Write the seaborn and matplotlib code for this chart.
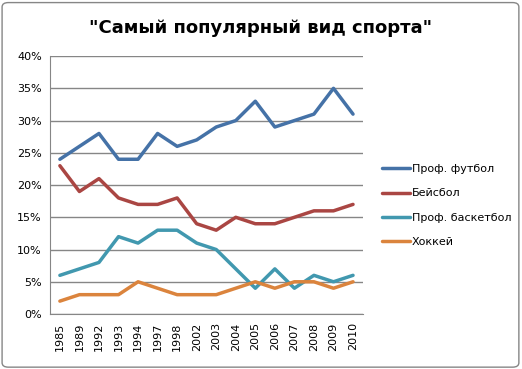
import matplotlib
matplotlib.use("Agg")
import numpy as np
import pandas as pd
import matplotlib.pyplot as plt
import seaborn as sns
from matplotlib.patches import FancyBboxPatch
from matplotlib.ticker import FixedLocator

years = ["1985", "1989", "1992", "1993", "1994", "1997", "1998", "2002",
         "2003", "2004", "2005", "2006", "2007", "2008", "2009", "2010"]
football = [24, 26, 28, 24, 24, 28, 26, 27, 29, 30, 33, 29, 30, 31, 35, 31]
baseball = [23, 19, 21, 18, 17, 17, 18, 14, 13, 15, 14, 14, 15, 16, 16, 17]
basketball = [6, 7, 8, 12, 11, 13, 13, 11, 10, 7, 4, 7, 4, 6, 5, 6]
hockey = [2, 3, 3, 3, 5, 4, 3, 3, 3, 4, 5, 4, 5, 5, 4, 5]
series_names = ["Проф. футбол", "Бейсбол", "Проф. баскетбол", "Хоккей"]
colors = ["#4572A7", "#AA4643", "#4198AF", "#DB843D"]
yticks = [0, 5, 10, 15, 20, 25, 30, 35, 40]

df = pd.DataFrame({"year": years, series_names[0]: football, series_names[1]: baseball,
                   series_names[2]: basketball, series_names[3]: hockey})
long = df.melt(id_vars="year", var_name="sport", value_name="pct")
long["x"] = long["year"].map({y: i for i, y in enumerate(years)})

sns.set_style("white")
plt.rcParams["font.family"] = ["DejaVu Sans"]
plt.rcParams["text.color"] = "black"
plt.rcParams["xtick.color"] = "black"
plt.rcParams["ytick.color"] = "black"

fig = plt.figure(figsize=(5.22, 3.69), dpi=100)
ax = fig.add_axes([0.096, 0.149, 0.599, 0.699])

sns.lineplot(data=long, x="x", y="pct", hue="sport", hue_order=series_names,
             palette=colors, linewidth=2.5, ax=ax)

ax.set_xlim(-0.5, len(years) - 0.5)
ax.set_ylim(0, 40)
ax.set_yticks(yticks)
ax.set_yticklabels([f"{v}%" for v in yticks], fontsize=8)
ax.set_xticks(range(len(years)))
ax.set_xticklabels(years, rotation=90, fontsize=8)
ax.xaxis.set_minor_locator(FixedLocator(np.arange(-0.5, len(years), 1)))
ax.tick_params(axis="x", which="major", length=0, pad=6)
ax.tick_params(axis="x", which="minor", length=4, color="#868686", direction="out")
ax.tick_params(axis="y", length=4, color="#868686", labelcolor="black", direction="out", pad=2)
ax.yaxis.grid(True, color="#868686", linewidth=1)
ax.set_axisbelow(True)
for s in ["top", "right"]:
    ax.spines[s].set_visible(False)
for s in ["left", "bottom"]:
    ax.spines[s].set_color("#868686")
ax.set_xlabel("")
ax.set_ylabel("")

leg = ax.legend(loc="center left", bbox_to_anchor=(1.03, 0.42), frameon=False,
                fontsize=8, handlelength=2.5, labelspacing=1.3, handletextpad=0.2)
for h in leg.get_lines():
    h.set_linewidth(2.5)

fig.text(0.5, 0.925, "\"Самый популярный вид спорта\"", ha="center", va="center",
         fontsize=13, fontweight="bold", color="black")

border = FancyBboxPatch((0.004, 0.005), 0.99, 0.988, boxstyle="round,pad=0,rounding_size=0.012",
                        transform=fig.transFigure, fill=False, edgecolor="#868686", linewidth=1)
fig.patches.append(border)

fig.savefig("out.png", dpi=100)
